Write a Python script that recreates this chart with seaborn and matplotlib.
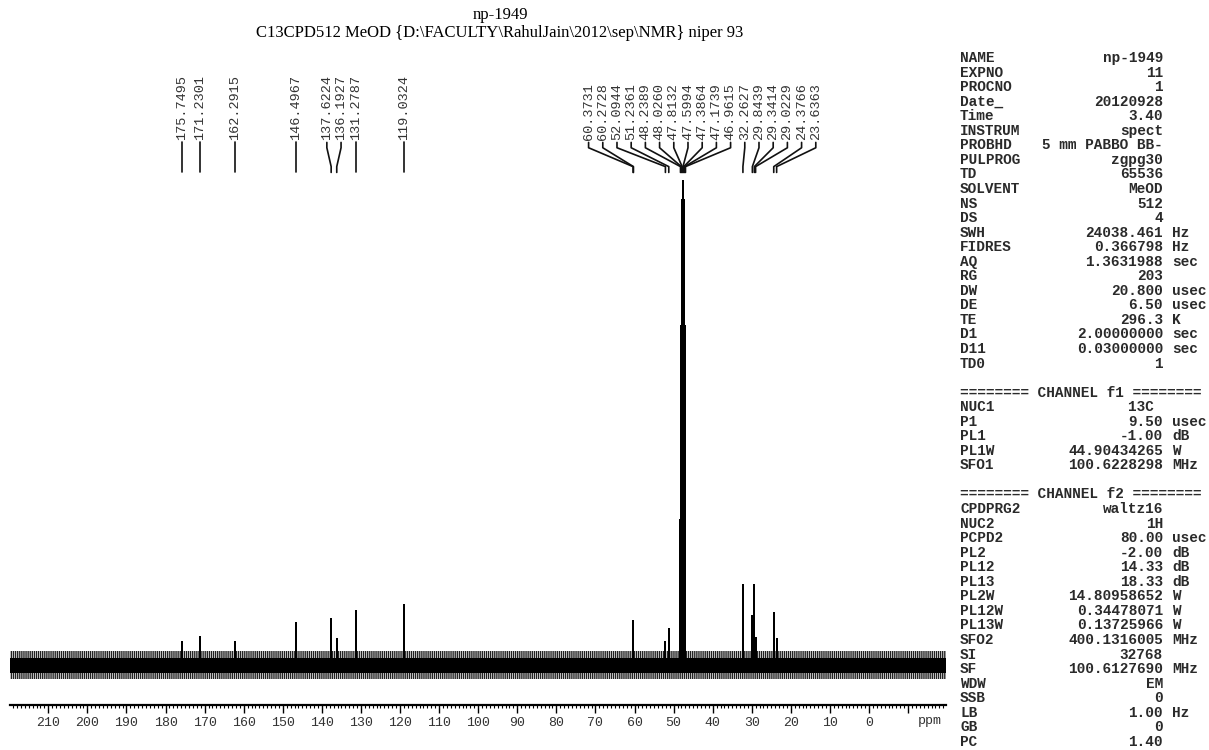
import numpy as np
import pandas as pd
import matplotlib
matplotlib.use("Agg")
import matplotlib.pyplot as plt
import seaborn as sns

# ---- spectrum data: 13C peak list (ppm) and relative intensities ----
peak_ppm = [175.7495, 171.2301, 162.2915, 146.4967, 137.6224, 136.1927,
            131.2787, 119.0324, 60.3731, 60.2728, 52.0944, 51.2361,
            48.2389, 48.0260, 47.8132, 47.5994, 47.3864, 47.1739, 46.9615,
            32.2627, 29.8439, 29.3414, 29.0229, 24.3766, 23.6363]
peak_intensity = [4.75, 5.8, 4.75, 8.7, 9.5, 5.4,
                  11.2, 12.4, 9.1, 3.2, 4.75, 7.4,
                  30.0, 70.0, 96.0, 100.0, 96.0, 70.0, 30.0,
                  16.5, 10.1, 16.5, 5.6, 10.7, 5.4]

major_ticks = list(range(-10, 211, 10))
tick_labels = [str(t) if t >= 0 else "" for t in major_ticks]

title_lines = ["np-1949",
               "C13CPD512 MeOD {D:\\FACULTY\\RahulJain\\2012\\sep\\NMR} niper 93"]

acq_params = [
    ("NAME", "np-1949", ""), ("EXPNO", "11", ""), ("PROCNO", "1", ""),
    ("Date_", "20120928", ""), ("Time", "3.40", ""), ("INSTRUM", "spect", ""),
    ("PROBHD", "5 mm PABBO BB-", ""), ("PULPROG", "zgpg30", ""),
    ("TD", "65536", ""), ("SOLVENT", "MeOD", ""), ("NS", "512", ""),
    ("DS", "4", ""), ("SWH", "24038.461", "Hz"), ("FIDRES", "0.366798", "Hz"),
    ("AQ", "1.3631988", "sec"), ("RG", "203", ""), ("DW", "20.800", "usec"),
    ("DE", "6.50", "usec"), ("TE", "296.3", "K"), ("D1", "2.00000000", "sec"),
    ("D11", "0.03000000", "sec"), ("TD0", "1", ""),
    None,
    ("======== CHANNEL f1 ========", None, None),
    ("NUC1", "13C ", ""), ("P1", "9.50", "usec"), ("PL1", "-1.00", "dB"),
    ("PL1W", "44.90434265", "W"), ("SFO1", "100.6228298", "MHz"),
    None,
    ("======== CHANNEL f2 ========", None, None),
    ("CPDPRG2", "waltz16", ""), ("NUC2", "1H", ""), ("PCPD2", "80.00", "usec"),
    ("PL2", "-2.00", "dB"), ("PL12", "14.33", "dB"), ("PL13", "18.33", "dB"),
    ("PL2W", "14.80958652", "W"), ("PL12W", "0.34478071", "W"),
    ("PL13W", "0.13725966", "W"), ("SFO2", "400.1316005", "MHz"),
    ("SI", "32768", ""), ("SF", "100.6127690", "MHz"), ("WDW", "EM", ""),
    ("SSB", "0", ""), ("LB", "1.00", "Hz"), ("GB", "0", ""), ("PC", "1.40", ""),
]

# ---- layout / style ----
W, H = 1209, 750
X_LEFT, X_RIGHT = 219.8, -19.7      # ppm range shown
Y_LOW, Y_HIGH = -8.26, 127.1        # intensity range of the axes
noise_level = 1.55                  # half-height of the solid baseline band
noise_fringe = 2.8                  # extent of the ragged outer band
mono = "Liberation Mono"

sns.set_theme(style="white")
plt.rcParams["font.family"] = ["DejaVu Sans"]
plt.rcParams["hatch.linewidth"] = 1.0
plt.rcParams["hatch.color"] = "#222222"

fig = plt.figure(figsize=(W / 100, H / 100), dpi=100)
ax = fig.add_axes([10 / W, 45 / H, 936 / W, 655 / H])


def fx(px):
    return px / W


def fy(py):
    return 1 - py / H


# stick spectrum built from the peak table
order = np.argsort(peak_ppm)[::-1]
xs, ys = [X_LEFT], [0.0]
for i in order:
    p, h = peak_ppm[i], peak_intensity[i]
    xs += [p, p, p]
    ys += [0.0, h, 0.0]
xs.append(X_RIGHT)
ys.append(0.0)
spec = pd.DataFrame({"ppm": xs, "intensity": ys})

# baseline noise band: hatched fringe around a solid core
ax.fill_between([X_LEFT, X_RIGHT], -noise_fringe, noise_fringe,
                facecolor="none", edgecolor="#222222", hatch="||||||||",
                lw=0, zorder=1)
ax.fill_between([X_LEFT, X_RIGHT], -noise_level, noise_level,
                color="black", lw=0, zorder=2)

sns.lineplot(data=spec, x="ppm", y="intensity", sort=False, estimator=None,
             color="black", lw=1.25, ax=ax, zorder=3)

ax.set_xlim(X_LEFT, X_RIGHT)
ax.set_ylim(Y_LOW, Y_HIGH)
for s in ["top", "left", "right"]:
    ax.spines[s].set_visible(False)
ax.spines["bottom"].set_linewidth(1.6)
ax.spines["bottom"].set_color("black")
ax.set_yticks([])
ax.set_xlabel("")
ax.set_ylabel("")
ax.set_xticks(major_ticks)
ax.set_xticklabels(tick_labels, family=mono, fontsize=9.5, color="#333333")
ax.set_xticks(np.arange(-19, 220, 1), minor=True)
ax.tick_params(axis="x", which="major", direction="out", length=5.5,
               width=1.0, color="black", pad=3, bottom=True)
ax.tick_params(axis="x", which="minor", direction="out", length=2.0,
               width=0.8, color="black", bottom=True)
fig.text(fx(930), fy(721), "ppm", ha="center", va="center",
         family=mono, fontsize=9.5, color="#333333")

# peak-pick labels: spread crowded labels evenly around their cluster centre
px_per_ppm = 936 / (X_LEFT - X_RIGHT)
gap = 14.2 / px_per_ppm
peaks_sorted = [peak_ppm[i] for i in order]
clusters = [[k] for k in range(len(peaks_sorted))]


def place(cl):
    c = np.mean([peaks_sorted[k] for k in cl])
    n = len(cl)
    return [c + gap * ((n - 1) / 2 - j) for j in range(n)]


merged = True
while merged:
    merged = False
    for a in range(len(clusters) - 1):
        la, lb = place(clusters[a]), place(clusters[a + 1])
        if la[-1] - lb[0] < gap:
            clusters[a] = clusters[a] + clusters[a + 1]
            del clusters[a + 1]
            merged = True
            break

for cl in clusters:
    for k, lx in zip(cl, place(cl)):
        p = peaks_sorted[k]
        ax.plot([lx, lx, p, p], [108.0, 106.9, 103.0, 101.8], color="#111111",
                lw=1.2, clip_on=False, zorder=4)
        ax.text(lx, 108.6, f"{p:.4f}", rotation=90, ha="center", va="bottom",
                family=mono, fontsize=9.7, color="#333333")

# title
fig.text(fx(500), fy(15), title_lines[0], ha="center", va="center",
         family="Liberation Serif", fontsize=12, color="black")
fig.text(fx(500), fy(33), title_lines[1], ha="center", va="center",
         family="Liberation Serif", fontsize=12, color="black")

# acquisition / processing parameter listing
row_y0, row_dy = 58, 14.55
for r, row in enumerate(acq_params):
    if row is None:
        continue
    key, val, unit = row
    y = fy(row_y0 + r * row_dy)
    fig.text(fx(960), y, key, ha="left", va="center", family=mono,
             fontsize=10.4, fontweight="bold", color="#2a2a2a")
    if val is not None:
        fig.text(fx(1163), y, val, ha="right", va="center", family=mono,
                 fontsize=10.4, fontweight="bold", color="#2a2a2a")
    if unit:
        fig.text(fx(1172), y, unit, ha="left", va="center", family=mono,
                 fontsize=10.4, fontweight="bold", color="#2a2a2a")

fig.savefig("out.png", dpi=100, facecolor="white")
